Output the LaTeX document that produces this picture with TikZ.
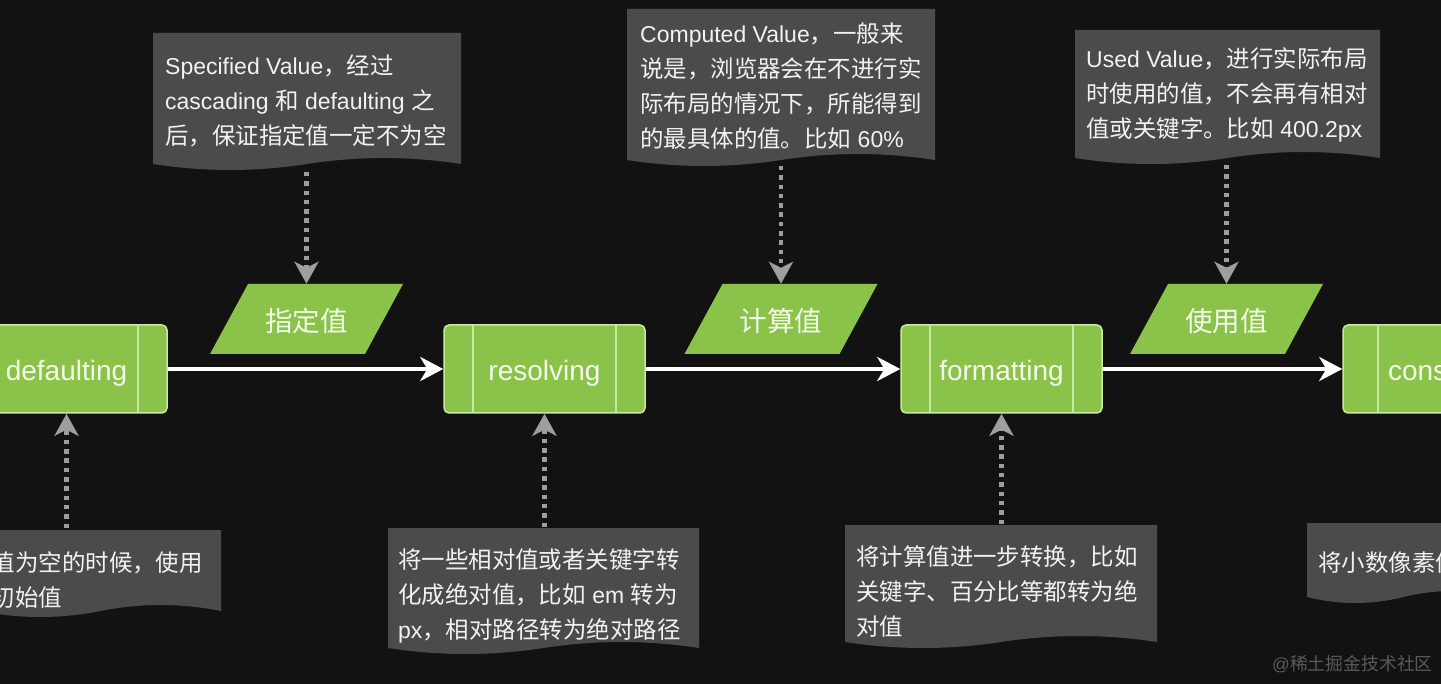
\documentclass[tikz,border=0pt]{standalone}
\usepackage{fontspec}
\setmainfont{Liberation Sans}
\newfontfamily\cjk{Noto Sans CJK SC}[Scale=1.02]
\usetikzlibrary{arrows.meta}
\definecolor{bgc}{HTML}{121212}
\definecolor{gfill}{HTML}{8BC34A}
\definecolor{gline}{HTML}{C9E8A4}
\definecolor{gtext}{HTML}{F4FBEA}
\definecolor{notebg}{HTML}{4B4B4B}
\definecolor{ntext}{HTML}{F2F2F2}
\definecolor{dotgray}{HTML}{9E9E9E}
\definecolor{wmgray}{HTML}{5A5A5A}
\newcommand\C[1]{{\cjk #1}}
\newcommand\fl{\rule{0pt}{22pt}}
\newcommand\docshape[4]{%
  \pgfmathsetmacro\nbw{(#3-(#1))/6}%
  \pgfmathsetmacro\nbm{(#3+(#1))/2}%
  \fill[notebg] (#1,#2) -- (#3,#2) -- (#3,#4)
    .. controls (#3-\nbw,#4-8) and (\nbm+\nbw,#4-8) .. (\nbm,#4)
    .. controls (\nbm-\nbw,#4+8) and (#1+\nbw,#4+8) .. (#1,#4) -- cycle;}
\newcommand\paraat[1]{%
  \fill[gfill] (#1-58.5,284) -- (#1+96.5,284) -- (#1+58.5,354) -- (#1-96.5,354) -- cycle;}
\tikzset{
  procinset/.store in=\procinset, procinset=29pt,
  procbox/.style={rectangle, rounded corners=5pt, fill=gfill, draw=gline,
    line width=1.5pt, minimum width=201pt, minimum height=88pt, inner sep=0pt,
    text=gtext, font=\fontsize{28}{30}\selectfont, text height=24pt, text depth=0pt,
    path picture={\draw[gline, line width=1.2pt]
      ([xshift=\procinset]path picture bounding box.north west) --
      ([xshift=\procinset]path picture bounding box.south west)
      ([xshift=-\procinset]path picture bounding box.north east) --
      ([xshift=-\procinset]path picture bounding box.south east);}},
  paranode/.style={minimum width=155pt, minimum height=70pt, inner sep=0pt,
    text=gtext, font=\cjk\fontsize{27}{30}\selectfont, text height=26pt, text depth=0pt},
  notetext/.style={anchor=north west, inner sep=0pt, align=left, text=ntext,
    font=\fontsize{23}{35}\selectfont},
  flow/.style={draw=white, line width=4pt,
    -{Stealth[length=23pt,width=24pt,inset=7pt]}},
  hint/.style={draw=dotgray, line width=4.5pt, dash pattern=on 4.5pt off 4.8pt,
    -{Stealth[length=22pt,width=24pt,inset=6pt]}},
  wmark/.style={anchor=east, inner sep=0pt, text=wmgray, font=\fontsize{17.5}{20}\selectfont}
}
\begin{document}
\begin{tikzpicture}[x=1pt,y=-1pt]
\fill[bgc] (0,0) rectangle (1441,684);
\useasboundingbox (0,0) rectangle (1441,684);
\clip (0,0) rectangle (1441,684);

% note shapes
\docshape{153}{33}{461}{164}
\docshape{627}{9}{935}{160}
\docshape{1075}{30}{1380}{158}
\docshape{-20}{530}{221}{611}
\docshape{388}{528}{699}{648}
\docshape{845}{525}{1157}{642}
\docshape{1307}{523}{1500}{597}

% parallelograms
\paraat{306.5}
\paraat{781}
\paraat{1226.5}

% process boxes
\node[procbox] (defaulting) at (66.5,369) {defaulting};
\node[procbox] (resolving) at (544.5,369) {resolving};
\node[procbox] (formatting) at (1001.5,369) {formatting};
\node[procbox, minimum width=241pt, procinset=35pt] (constraining) at (1463.5,369) {constraining};

% value nodes
\node[paranode] (pspec) at (306.5,319) {指定值};
\node[paranode] (pcomp) at (781,319) {计算值};
\node[paranode] (pused) at (1226.5,319) {使用值};

% note texts
\node[notetext] (tA) at (165,52) {\fl Specified Value\C{，经过}\\cascading \C{和} defaulting \C{之}\\\C{后，保证指定值一定不为空}};
\node[notetext] (tB) at (640,20) {\fl Computed Value\C{，一般来}\\\C{说是，浏览器会在不进行实}\\\C{际布局的情况下，所能得到}\\\C{的最具体的值。比如} 60\%};
\node[notetext] (tC) at (1086,45) {\fl Used Value\C{，进行实际布局}\\\C{时使用的值，不会再有相对}\\\C{值或关键字。比如} 400.2px};
\node[notetext] (tD) at (-8.5,549) {\fl\C{值为空的时候，使用}\\\C{初始值}};
\node[notetext] (tE) at (398,546) {\fl\C{将一些相对值或者关键字转}\\\C{化成绝对值，比如} em \C{转为}\\px\C{，相对路径转为绝对路径}};
\node[notetext] (tF) at (856,543) {\fl\C{将计算值进一步转换，比如}\\\C{关键字、百分比等都转为绝}\\\C{对值}};
\node[notetext] (tG) at (1318,549) {\fl\C{将小数像素值}};

% connector ends at notes
\coordinate (nA) at (306.5,172);
\coordinate (nB) at (781,166);
\coordinate (nC) at (1226.5,165);
\coordinate (nD) at (66.5,528);
\coordinate (nE) at (544.5,527);
\coordinate (nF) at (1001.5,524);

% flow arrows
\draw[flow] (defaulting) -- (resolving);
\draw[flow] (resolving) -- (formatting);
\draw[flow] (formatting) -- (constraining);

% hint arrows
\draw[hint] (nA) -- (pspec.north);
\draw[hint] (nB) -- (pcomp.north);
\draw[hint] (nC) -- (pused.north);
\draw[hint] (nD) -- (defaulting.south);
\draw[hint] (nE) -- (resolving.south);
\draw[hint] (nF) -- (formatting.south);

% watermark
\node[wmark] (wm) at (1433,664) {@\C{稀土掘金技术社区}};
\end{tikzpicture}
\end{document}
